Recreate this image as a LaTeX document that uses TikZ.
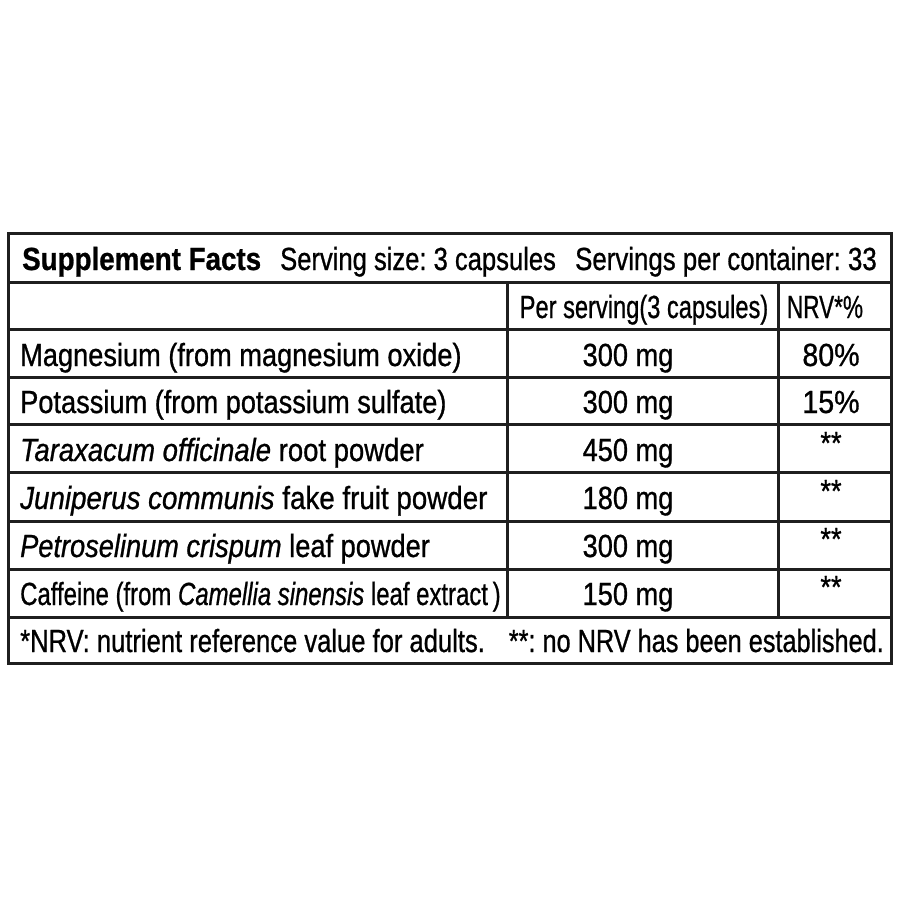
\documentclass[tikz,border=0pt]{standalone}
\usepackage{graphicx}
\usepackage{fontspec}
\setmainfont[FakeStretch=0.85, FakeBold=0.8]{Liberation Sans}
\usetikzlibrary{positioning}
\frenchspacing

% squeeze a text horizontally
\newcommand{\sq}[2]{\scalebox{#1}[1]{#2}}

\tikzset{
  cell/.style={inner sep=0pt, anchor=base, font=\fontsize{32}{36}\selectfont},
  lcell/.style={cell, anchor=base west},
  rcell/.style={cell, anchor=base east},
  rule/.style={line width=3pt, color=black!88}
}

\begin{document}
\begin{tikzpicture}[x=1pt, y=-1pt]
    \useasboundingbox (0,0) rectangle (900,900);

    % grid of the table
    \draw[rule] (8,233) rectangle (891,663);
    \draw[rule] (8,282) -- (891,282);
    \draw[rule] (8,329) -- (891,329);
    \draw[rule] (8,377) -- (891,377);
    \draw[rule] (8,424) -- (891,424);
    \draw[rule] (8,472) -- (891,472);
    \draw[rule] (8,521) -- (891,521);
    \draw[rule] (8,569) -- (891,569);
    \draw[rule] (8,617) -- (891,617);
    \draw[rule] (507,282) -- (507,617);
    \draw[rule] (778,282) -- (778,617);

    % header
    \node[lcell, font=\fontsize{32}{36}\selectfont\bfseries] (title) at (22,270) {\sq{1.02}{Supplement Facts}};
    \node[lcell] (size) at (280,270) {\sq{0.94}{Serving size: 3 capsules}};
    \node[rcell] (servings) at (877,270) {\sq{0.95}{Servings per container: 33}};
    \node[cell] (perserving) at (644,318) {\sq{0.87}{Per serving(3 capsules)}};
    \node[cell] (nrv) at (825,318) {\sq{0.83}{NRV*\%}};

    % rows
    \node[lcell] (mg) at (20,366) {Magnesium (from magnesium oxide)};
    \node[cell] (mgdose) at (628,366) {300 mg};
    \node[cell] (mgnrv) at (831,366) {\sq{1.05}{80\%}};

    \node[lcell] (k) at (20,413) {Potassium (from potassium sulfate)};
    \node[cell] (kdose) at (628,413) {300 mg};
    \node[cell] (knrv) at (831,413) {\sq{1.05}{15\%}};

    \node[lcell] (tar) at (20,461) {\sq{1.01}{\textit{Taraxacum officinale} root powder}};
    \node[cell] (tardose) at (628,461) {450 mg};
    \node[cell] (tarnrv) at (831,454) {**};

    \node[lcell] (jun) at (20,509) {\sq{1.02}{\textit{Juniperus communis} fake fruit powder}};
    \node[cell] (jundose) at (628,509) {180 mg};
    \node[cell] (junnrv) at (831,502) {**};

    \node[lcell] (pet) at (20,557) {\textit{Petroselinum crispum} leaf powder};
    \node[cell] (petdose) at (628,557) {300 mg};
    \node[cell] (petnrv) at (831,550) {**};

    \node[lcell] (caf) at (20,605) {\sq{0.88}{Caffeine (from \textit{Camellia sinensis} leaf extract\,)}};
    \node[cell] (cafdose) at (628,605) {150 mg};
    \node[cell] (cafnrv) at (831,598) {**};

    % footer
    \node[lcell] (note1) at (20,652) {\sq{0.94}{*NRV: nutrient reference value for adults.}};
    \node[rcell] (note2) at (884,652) {\sq{0.93}{**: no NRV has been established.}};
\end{tikzpicture}
\end{document}
